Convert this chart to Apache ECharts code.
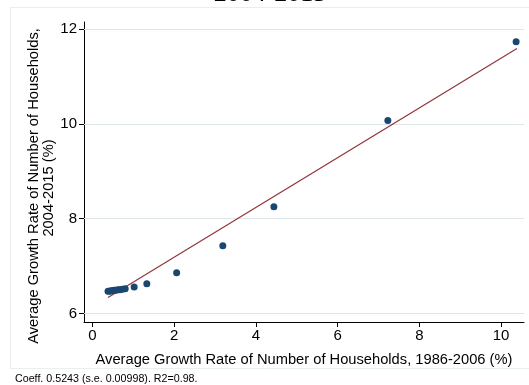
<!DOCTYPE html>
<html>
<head>
<meta charset="utf-8">
<script src="https://cdn.jsdelivr.net/npm/echarts@6/dist/echarts.min.js"></script>
<style>
html,body{margin:0;padding:0;background:#fff;}
#chart{width:529px;height:385px;}
</style>
</head>
<body>
<div id="chart"></div>
<script>
// Data
var xValues = [0.38, 0.42, 0.45, 0.49, 0.53, 0.57, 0.62, 0.67, 0.73, 0.80, 1.02, 1.33, 2.06, 3.19, 4.44, 7.23, 10.37];
var yValues = [6.47, 6.47, 6.48, 6.48, 6.49, 6.49, 6.50, 6.50, 6.51, 6.52, 6.56, 6.63, 6.86, 7.43, 8.25, 10.07, 11.73];
var fitX = [0.38, 10.39];
var fitY = [6.34, 11.59];
var xTicks = [0, 2, 4, 6, 8, 10];
var yTicks = [6, 8, 10, 12];
var titleText = '2004-2015';
var xTitle = 'Average Growth Rate of Number of Households, 1986-2006 (%)';
var yTitle1 = 'Average Growth Rate of Number of Households,';
var yTitle2 = '2004-2015 (%)';
var noteText = 'Coeff. 0.5243 (s.e. 0.00998). R2=0.98.';

var points = xValues.map(function (x, i) { return [x, yValues[i]]; });
var fitPoints = fitX.map(function (x, i) { return [x, fitY[i]]; });

var FONT = '"Liberation Sans", Arial, sans-serif';
var chart = echarts.init(document.getElementById('chart'));
chart.setOption({
  animation: false,
  backgroundColor: '#fff',
  grid: { left: 84, right: 5, top: 22, bottom: 63, containLabel: false },
  xAxis: {
    type: 'value',
    min: -0.208, max: 10.563,
    axisLine: { show: true, onZero: false, lineStyle: { color: '#000', width: 1 } },
    axisTick: { show: true, length: 5, customValues: xTicks, lineStyle: { color: '#000' } },
    axisLabel: { customValues: xTicks, color: '#000', fontFamily: FONT, fontSize: 15, margin: 6 },
    splitLine: { show: false },
    name: xTitle, nameLocation: 'middle', nameGap: 30,
    nameTextStyle: { color: '#000', fontFamily: FONT, fontSize: 14.7 }
  },
  yAxis: {
    type: 'value',
    min: 5.821, max: 12.148,
    axisLine: { show: true, onZero: false, lineStyle: { color: '#000', width: 1 } },
    axisTick: { show: true, length: 5, customValues: yTicks, lineStyle: { color: '#000' } },
    axisLabel: { customValues: yTicks, color: '#000', fontFamily: FONT, fontSize: 15, margin: 7 },
    splitLine: { show: false }
  },
  graphic: [
    { type: 'rect', shape: { x: 10.5, y: 7.5, width: 530, height: 361 }, style: { fill: null, stroke: '#e9efef', lineWidth: 1 }, z: -10, silent: true },
    { type: 'text', style: { text: titleText, x: 270, y: 7, align: 'center', verticalAlign: 'bottom', font: '26px "Liberation Serif", "Times New Roman", serif', fill: '#000' }, silent: true },
    { type: 'text', x: 34, y: 186, rotation: Math.PI / 2, style: { text: yTitle1, align: 'center', verticalAlign: 'middle', font: '14.7px ' + FONT, fill: '#000' }, silent: true },
    { type: 'text', x: 49, y: 188, rotation: Math.PI / 2, style: { text: yTitle2, align: 'center', verticalAlign: 'middle', font: '14.7px ' + FONT, fill: '#000' }, silent: true },
    { type: 'text', x: 15, y: 379, style: { text: noteText, align: 'left', verticalAlign: 'middle', font: '10.7px ' + FONT, fill: '#000' }, silent: true }
  ],
  series: [
    {
      type: 'line', data: fitPoints, showSymbol: false, symbol: 'none', silent: true, z: 3,
      lineStyle: { color: '#90353b', width: 1.2 },
      markLine: {
        silent: true, symbol: ['none', 'none'], animation: false, z: 1,
        label: { show: false },
        emphasis: { disabled: true },
        lineStyle: { color: '#dde7e7', width: 1, type: 'solid' },
        data: yTicks.map(function (v) { return { yAxis: v }; })
      }
    },
    {
      type: 'scatter', data: points, symbol: 'circle', symbolSize: 7, silent: true, z: 4,
      itemStyle: { color: '#1a476f', opacity: 1 }
    }
  ]
});
</script>
</body>
</html>
